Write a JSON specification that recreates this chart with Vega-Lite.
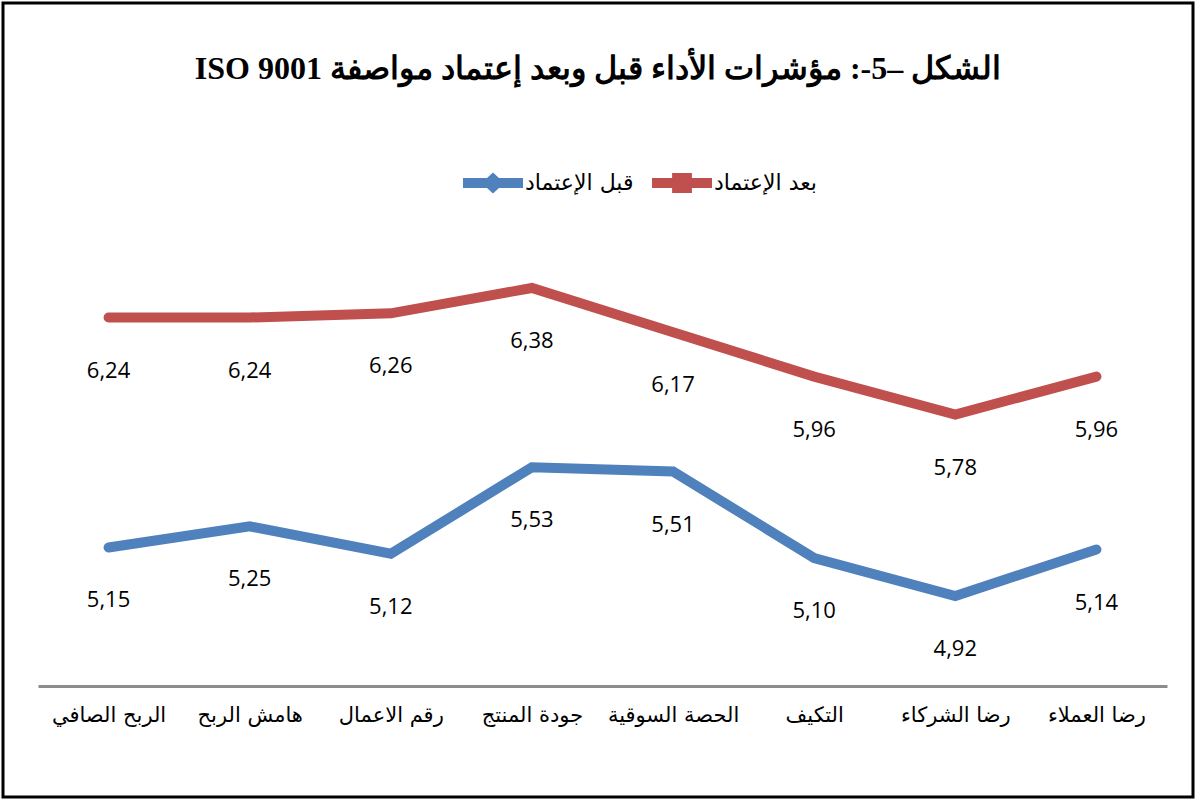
{
  "$schema": "https://vega.github.io/schema/vega-lite/v6.json",
  "width": 1190,
  "height": 794,
  "padding": 3,
  "autosize": "none",
  "background": "white",
  "config": {
    "view": {"stroke": "black", "strokeWidth": 3},
    "locale": {"number": {"decimal": ",", "thousands": " ", "grouping": [3], "currency": ["", ""]}}
  },
  "title": {
    "text": "ISO 9001 الشكل –5-: مؤشرات الأداء قبل وبعد إعتماد مواصفة",
    "font": "Liberation Serif",
    "fontSize": 32,
    "fontWeight": "bold",
    "color": "black",
    "anchor": "middle",
    "frame": "group",
    "baseline": "middle",
    "offset": -98
  },
  "data": {
    "values": [
      {"k": "الربح الصافي", "s": "قبل الإعتماد", "v": 5.15},
      {"k": "هامش الربح", "s": "قبل الإعتماد", "v": 5.25},
      {"k": "رقم الاعمال", "s": "قبل الإعتماد", "v": 5.12},
      {"k": "جودة المنتج", "s": "قبل الإعتماد", "v": 5.53},
      {"k": "الحصة السوقية", "s": "قبل الإعتماد", "v": 5.51},
      {"k": "التكيف", "s": "قبل الإعتماد", "v": 5.10},
      {"k": "رضا الشركاء", "s": "قبل الإعتماد", "v": 4.92},
      {"k": "رضا العملاء", "s": "قبل الإعتماد", "v": 5.14},
      {"k": "الربح الصافي", "s": "بعد الإعتماد", "v": 6.24},
      {"k": "هامش الربح", "s": "بعد الإعتماد", "v": 6.24},
      {"k": "رقم الاعمال", "s": "بعد الإعتماد", "v": 6.26},
      {"k": "جودة المنتج", "s": "بعد الإعتماد", "v": 6.38},
      {"k": "الحصة السوقية", "s": "بعد الإعتماد", "v": 6.17},
      {"k": "التكيف", "s": "بعد الإعتماد", "v": 5.96},
      {"k": "رضا الشركاء", "s": "بعد الإعتماد", "v": 5.78},
      {"k": "رضا العملاء", "s": "بعد الإعتماد", "v": 5.96}
    ]
  },
  "encoding": {
    "x": {
      "field": "k",
      "type": "nominal",
      "sort": null,
      "scale": {"type": "point", "padding": 0.5, "range": [35, 1164]},
      "axis": {
        "title": null,
        "orient": "bottom",
        "offset": -111,
        "domainColor": "#8c8c8c",
        "domainWidth": 3,
        "ticks": false,
        "labelPadding": 18,
        "labelFont": "DejaVu Sans",
        "labelFontSize": 21,
        "labelColor": "black",
        "labelAngle": 0,
        "grid": false
      }
    },
    "y": {
      "field": "v",
      "type": "quantitative",
      "scale": {"domain": [3.967, 7.731], "nice": false, "zero": false},
      "axis": null
    }
  },
  "layer": [
    {
      "mark": {"type": "line", "strokeWidth": 10, "strokeCap": "round"},
      "encoding": {
        "color": {
          "field": "s",
          "type": "nominal",
          "scale": {"domain": ["قبل الإعتماد", "بعد الإعتماد"], "range": ["#4F81BD", "#C0504D"]},
          "legend": {
            "title": null,
            "orient": "none",
            "legendX": 460,
            "legendY": 150,
            "direction": "horizontal",
            "symbolSize": 3600,
            "labelFont": "DejaVu Sans",
            "labelFontSize": 22,
            "labelColor": "black",
            "labelOffset": 2,
            "columnPadding": 18,
            "encode": {
              "symbols": {
                "update": {
                  "shape": {"signal": "datum.value === 'قبل الإعتماد' ? 'M-1,-0.17H1V0.17H-1Z M0,-0.35L0.38,0L0,0.35L-0.38,0Z' : 'M-1,-0.17H1V0.17H-1Z M-0.33,-0.33H0.33V0.33H-0.33Z'"},
                  "fill": {"signal": "datum.value === 'قبل الإعتماد' ? '#4F81BD' : '#C0504D'"},
                  "stroke": {"value": "transparent"},
                  "strokeWidth": {"value": 0},
                  "opacity": {"value": 1},
                  "fillOpacity": {"value": 1}
                }
              }
            }
          }
        }
      }
    },
    {
      "mark": {"type": "text", "dy": 53, "font": "Open Sans", "fontSize": 22, "color": "black"},
      "encoding": {
        "text": {"field": "v", "type": "quantitative", "format": ".2f"}
      }
    }
  ]
}
